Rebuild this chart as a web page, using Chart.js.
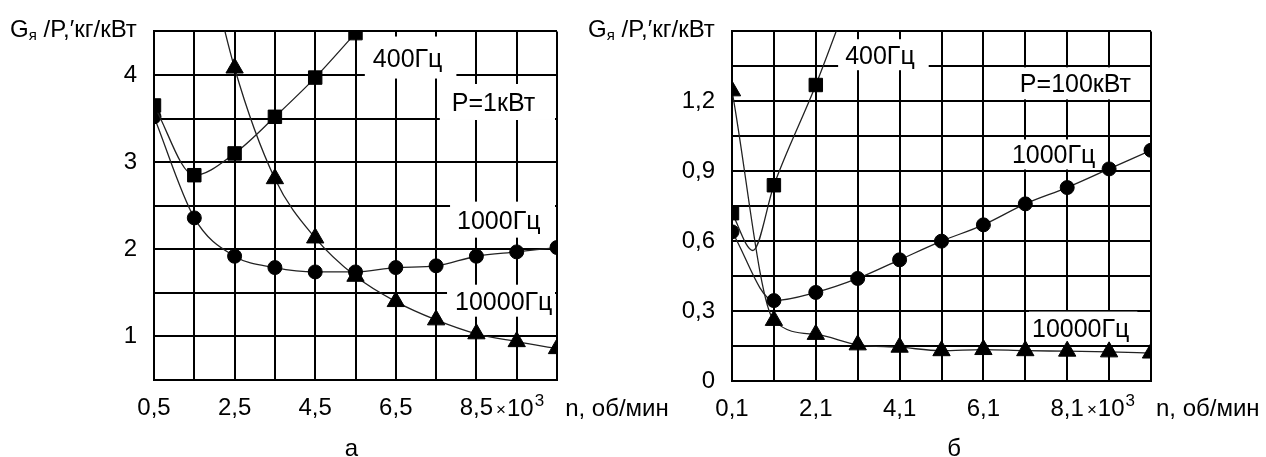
<!DOCTYPE html>
<html>
<head>
<meta charset="utf-8">
<script src="https://cdn.jsdelivr.net/npm/chart.js@4.4.1/dist/chart.umd.min.js"></script>
<style>
  html, body { margin: 0; padding: 0; background: #fff; }
  body { width: 1266px; height: 457px; position: relative; overflow: hidden; }
  canvas { position: absolute; top: 0; }
  #chartA { left: 0; }
  #chartB { left: 570px; }
</style>
</head>
<body>
<canvas id="chartA" width="680" height="457"></canvas>
<canvas id="chartB" width="696" height="457"></canvas>
<script>
// ---- а : P = 1 кВт ----
var xTicksA  = [0.5, 1.5, 2.5, 3.5, 4.5, 5.5, 6.5, 7.5, 8.5, 9.5, 10.5];
var xLabelsA = ['0,5', '', '2,5', '', '4,5', '', '6,5', '', '8,5', '', ''];
var yTicksA  = [0.5, 1, 1.5, 2, 2.5, 3, 3.5, 4, 4.5];
var yLabelsA = ['', '1', '', '2', '', '3', '', '4', ''];

var a400x   = [0.5, 1.5, 2.5, 3.5, 4.5, 5.5];
var a400    = [3.65, 2.85, 3.1, 3.52, 3.97, 4.48];
var a1000x  = [0.5, 1.5, 2.5, 3.5, 4.5, 5.5, 6.5, 7.5, 8.5, 9.5, 10.5];
var a1000   = [3.52, 2.36, 1.92, 1.79, 1.74, 1.74, 1.79, 1.81, 1.92, 1.97, 2.02];
var a10000x = [1.5, 2.5, 3.5, 4.5, 5.5, 6.5, 7.5, 8.5, 9.5, 10.5];
var a10000  = [6.0, 4.08, 2.81, 2.13, 1.69, 1.4, 1.19, 1.03, 0.94, 0.86];

// ---- б : P = 100 кВт ----
var xTicksB  = [0.1, 1.1, 2.1, 3.1, 4.1, 5.1, 6.1, 7.1, 8.1, 9.1, 10.1];
var xLabelsB = ['0,1', '', '2,1', '', '4,1', '', '6,1', '', '8,1', '', ''];
var yTicksB  = [0, 0.15, 0.3, 0.45, 0.6, 0.75, 0.9, 1.05, 1.2, 1.35, 1.5];
var yLabelsB = ['0', '', '0,3', '', '0,6', '', '0,9', '', '1,2', '', ''];

var b400x   = [0.1, 0.6, 1.1, 2.1, 3.1];
var b400    = [0.72, 0.56, 0.84, 1.27, 1.75];
var b400r   = [9.5, 0, 9.5, 9.5, 9.5];
var b1000x  = [0.1, 1.1, 2.1, 3.1, 4.1, 5.1, 6.1, 7.1, 8.1, 9.1, 10.1];
var b1000   = [0.64, 0.345, 0.38, 0.44, 0.52, 0.6, 0.67, 0.76, 0.83, 0.91, 0.99];
var b10000x = [0.1, 1.1, 2.1, 3.1, 4.1, 5.1, 6.1, 7.1, 8.1, 9.1, 10.1];
var b10000  = [1.245, 0.26, 0.2, 0.155, 0.145, 0.13, 0.135, 0.13, 0.128, 0.125, 0.12];

// curve labels (text, x, y in data units, box padding)
var notesA = [
  { text: '400Гц',   x: 5.93, y: 4.20, padL: 8,  padR: 14, half: 21 },
  { text: 'P=1кВт',  x: 7.89, y: 3.69, padL: 12, padR: 30, half: 18 },
  { text: '1000Гц',  x: 8.02, y: 2.34, padL: 7,  padR: 30, half: 18 },
  { text: '10000Гц', x: 7.97, y: 1.41, padL: 8,  padR: 30, half: 16 }
];
var notesB = [
  { text: '400Гц',    x: 2.80, y: 1.40,  padL: 7,  padR: 14, half: 15.5 },
  { text: 'P=100кВт', x: 6.97, y: 1.277, padL: 8,  padR: 30, half: 16 },
  { text: '1000Гц',   x: 6.78, y: 0.972, padL: 7,  padR: 6,  half: 15 },
  { text: '10000Гц',  x: 7.26, y: 0.227, padL: 3,  padR: 8,  half: 16.5 }
];

var FONT = '"Liberation Sans", Arial, sans-serif';
Chart.defaults.font.family = FONT;
Chart.defaults.font.size = 24;
Chart.defaults.color = '#000';

function pts(xs, ys) {
  return xs.map(function(x, i) { return { x: x, y: ys[i] }; });
}

function series(xs, ys, style, radius) {
  return {
    data: pts(xs, ys),
    borderColor: '#222',
    borderWidth: 1.3,
    backgroundColor: '#000',
    pointBackgroundColor: '#000',
    pointBorderColor: '#000',
    pointBorderWidth: 1,
    pointStyle: style,
    pointRadius: radius,
    pointHoverRadius: radius,
    cubicInterpolationMode: 'monotone',
    fill: false
  };
}

var notesPlugin = {
  id: 'notes',
  beforeDatasetsDraw: function(chart, args, opts) {
    var ctx = chart.ctx, ca = chart.chartArea;
    var xs = chart.scales.x, ys = chart.scales.y;
    ctx.save();
    ctx.font = '25px ' + FONT;
    ctx.textAlign = 'left';
    ctx.textBaseline = 'alphabetic';
    opts.items.forEach(function(n) {
      var px = xs.getPixelForValue(n.x), py = ys.getPixelForValue(n.y);
      var w = ctx.measureText(n.text).width;
      var l = Math.max(px - n.padL, ca.left + 2);
      var r = Math.min(px + w + n.padR, ca.right - 2);
      var t = Math.max(py - n.half, ca.top + 2);
      var b = Math.min(py + n.half, ca.bottom - 2);
      ctx.fillStyle = '#fff';
      ctx.fillRect(l, t, r - l, b - t);
      ctx.fillStyle = '#000';
      ctx.fillText(n.text, px, py + 9);
    });
    ctx.restore();
  },
  afterDraw: function(chart, args, opts) {
    var ctx = chart.ctx, ca = chart.chartArea;
    var xs = chart.scales.x;
    ctx.save();
    ctx.fillStyle = '#000';
    ctx.textBaseline = 'alphabetic';
    ctx.textAlign = 'left';
    // axis title  Gя /P,′кг/кВт
    var tx = ca.left - 144, ty = 37;
    ctx.font = '24px ' + FONT;
    ctx.fillText('G', tx, ty);
    tx += ctx.measureText('G').width;
    ctx.font = '15px ' + FONT;
    ctx.fillText('я', tx, ty + 3);
    tx += ctx.measureText('я').width;
    ctx.font = '24px ' + FONT;
    ctx.fillText(' /P,′кг/кВт', tx, ty);
    // x axis suffix after the last labelled tick
    var li = opts.xLabels.length - 1;
    while (li > 0 && opts.xLabels[li] === '') li--;
    var lx = xs.getPixelForValue(opts.xTicks[li]);
    ctx.font = '24px ' + FONT;
    var sx = lx + ctx.measureText(opts.xLabels[li]).width / 2 + 3;
    var sy = 416;
    ctx.font = '17px ' + FONT;
    ctx.fillText('×', sx, sy - 1);
    sx += ctx.measureText('×').width + 1;
    ctx.font = '24px ' + FONT;
    ctx.fillText('10', sx, sy);
    sx += ctx.measureText('10').width + 1;
    ctx.font = '17px ' + FONT;
    ctx.fillText('3', sx, sy - 10);
    sx += ctx.measureText('3').width + 21;
    ctx.font = '24px ' + FONT;
    ctx.fillText('n, об/мин', sx, sy);
    // panel caption
    ctx.textAlign = 'center';
    ctx.fillText(opts.caption, xs.getPixelForValue(5.4), 456);
    ctx.restore();
  }
};

function makeChart(id, cfg) {
  return new Chart(document.getElementById(id), {
    type: 'line',
    data: { datasets: cfg.datasets },
    options: {
      responsive: false,
      devicePixelRatio: 1,
      animation: false,
      events: [],
      layout: { padding: { left: 0, top: cfg.top, right: cfg.right, bottom: 0 } },
      plugins: {
        legend: { display: false },
        tooltip: { enabled: false },
        notes: { items: cfg.notes, xTicks: cfg.xTicks, xLabels: cfg.xLabels, caption: cfg.caption }
      },
      scales: {
        x: {
          type: 'linear',
          min: cfg.xTicks[0],
          max: cfg.xTicks[cfg.xTicks.length - 1],
          afterBuildTicks: function(axis) {
            axis.ticks = cfg.xTicks.map(function(v) { return { value: v }; });
          },
          afterFit: function(axis) { axis.height = 457 - cfg.bottom; },
          grid: { color: '#000', lineWidth: 2, drawTicks: false },
          border: { display: true, color: '#000', width: 2 },
          ticks: {
            autoSkip: false, maxRotation: 0, padding: 14,
            callback: function(v, i) { return cfg.xLabels[i]; }
          }
        },
        y: {
          type: 'linear',
          min: cfg.yTicks[0],
          max: cfg.yTicks[cfg.yTicks.length - 1],
          afterBuildTicks: function(axis) {
            axis.ticks = cfg.yTicks.map(function(v) { return { value: v }; });
          },
          afterFit: function(axis) { axis.width = cfg.left; },
          grid: { color: '#000', lineWidth: 2, drawTicks: false },
          border: { display: true, color: '#000', width: 2 },
          ticks: {
            autoSkip: false, padding: 17,
            callback: function(v, i) { return cfg.yLabels[i]; }
          }
        }
      }
    },
    plugins: [notesPlugin]
  });
}

makeChart('chartA', {
  left: 154, top: 21, right: 680 - 557, bottom: 380,
  xTicks: xTicksA, xLabels: xLabelsA, yTicks: yTicksA, yLabels: yLabelsA,
  notes: notesA, caption: 'а',
  datasets: [
    series(a400x, a400, 'rect', 9.5),
    series(a1000x, a1000, 'circle', 7),
    series(a10000x, a10000, 'triangle', 10)
  ]
});

makeChart('chartB', {
  left: 732 - 570, top: 17, right: 696 - 581, bottom: 381,
  xTicks: xTicksB, xLabels: xLabelsB, yTicks: yTicksB, yLabels: yLabelsB,
  notes: notesB, caption: 'б',
  datasets: [
    series(b400x, b400, 'rect', b400r),
    series(b1000x, b1000, 'circle', 7),
    series(b10000x, b10000, 'triangle', 10)
  ]
});
</script>
</body>
</html>
